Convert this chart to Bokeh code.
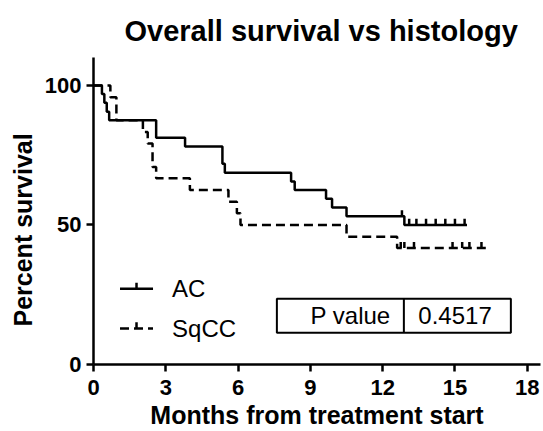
import numpy as np
from bokeh.plotting import figure
from bokeh.models import FixedTicker, Title
from bokeh.core.properties import value
from bokeh.embed import file_html
from bokeh.resources import INLINE

# ---------------- data ----------------
ac_times = [0, 0.35, 0.45, 0.55, 0.65, 2.6, 3.8, 5.35, 5.45, 8.2, 8.35, 9.65, 9.9, 10.5, 12.9]
ac_surv = [100, 96.9, 93.75, 90.6, 87.5, 81.25, 78.1, 71.9, 68.75, 65.6, 62.5, 59.4, 56.25, 53.1, 50.0]
ac_last = 15.5
ac_censor = [12.8, 13.1, 13.4, 13.8, 14.2, 14.6, 15.0, 15.4]

sq_times = [0, 0.7, 0.95, 2.05, 2.25, 2.45, 2.6, 4.0, 5.6, 5.95, 6.1, 10.5, 12.6]
sq_surv = [100, 95.8, 87.5, 83.3, 79.2, 70.8, 66.7, 62.5, 58.3, 54.2, 50.0, 45.8, 41.7]
sq_last = 16.3
sq_censor = [12.75, 12.9, 13.3, 14.9, 15.3, 15.6, 16.1]

series_names = ["AC", "SqCC"]
x_ticks = [0, 3, 6, 9, 12, 15, 18]
y_ticks = [0, 50, 100]
p_label = "P value"
p_value = "0.4517"

title_text = "Overall survival vs histology"
x_label = "Months from treatment start"
y_label = "Percent survival"

FONT = "Liberation Sans"
LW = 2.5
DASH = "9 5"


def surv_at(times, surv, t):
    idx = int(np.searchsorted(np.asarray(times), t, side="right")) - 1
    return surv[idx]


p = figure(width=543, height=431, x_range=(0, 18.55), y_range=(0, 110),
           output_backend="svg", toolbar_location=None,
           min_border_left=93, min_border_right=3, min_border_top=57, min_border_bottom=0)
p.outline_line_color = None
p.xgrid.visible = False
p.ygrid.visible = False
p.background_fill_color = "white"
p.border_fill_color = "white"

# title
p.title.text = title_text
p.title.align = "left"
p.title.offset = 31
p.title.standoff = 22
p.title.text_font = FONT
p.title.text_font_size = "29px"
p.title.text_font_style = "bold"
p.title.text_color = "black"

# axes
for ax in (p.xaxis[0], p.yaxis[0]):
    ax.axis_line_width = LW
    ax.axis_line_color = "black"
    ax.major_tick_line_width = LW
    ax.major_tick_line_color = "black"
    ax.major_tick_out = 7
    ax.major_tick_in = 0
    ax.minor_tick_out = 0
    ax.minor_tick_in = 0
    ax.major_label_text_font = FONT
    ax.major_label_text_font_size = "22px"
    ax.major_label_text_font_style = "bold"
    ax.major_label_text_color = "black"
    ax.major_label_standoff = 5

p.xaxis.major_label_standoff = 8
p.xaxis.ticker = FixedTicker(ticks=x_ticks)
p.yaxis.ticker = FixedTicker(ticks=y_ticks)
p.xaxis.axis_label = x_label
p.xaxis.axis_label_text_font = FONT
p.xaxis.axis_label_text_font_size = "25px"
p.xaxis.axis_label_text_font_style = "bold"
p.xaxis.axis_label_text_color = "black"
p.xaxis.axis_label_standoff = 3

ytitle = Title(text=y_label, align="left", offset=38, text_font=FONT,
               text_font_size="25px", text_font_style="bold", text_color="black",
               standoff=10)
p.add_layout(ytitle, "left")

# survival curves
ac_x = list(ac_times) + [ac_last]
ac_y = list(ac_surv) + [ac_surv[-1]]
sq_x = list(sq_times) + [sq_last]
sq_y = list(sq_surv) + [sq_surv[-1]]

p.step(sq_x, sq_y, mode="after", line_color="black", line_width=LW, line_dash=DASH)
p.step(ac_x, ac_y, mode="after", line_color="black", line_width=LW)

tick_h = 2.2
ac_cy = [surv_at(ac_times, ac_surv, t) for t in ac_censor]
sq_cy = [surv_at(sq_times, sq_surv, t) for t in sq_censor]
p.segment(x0=ac_censor, y0=ac_cy, x1=ac_censor, y1=[v + tick_h for v in ac_cy],
          line_color="black", line_width=LW)
p.segment(x0=sq_censor, y0=sq_cy, x1=sq_censor, y1=[v + tick_h for v in sq_cy],
          line_color="black", line_width=LW)

# legend (drawn by hand)
leg_x0, leg_x1, leg_tx = 1.1, 2.47, 3.26
leg_y = [27.1, 12.9]
p.segment(x0=[leg_x0], y0=[leg_y[0]], x1=[leg_x1], y1=[leg_y[0]], line_color="black", line_width=LW)
p.segment(x0=[leg_x0], y0=[leg_y[1]], x1=[leg_x1], y1=[leg_y[1]], line_color="black",
          line_width=LW, line_dash=DASH)
mid = (leg_x0 + leg_x1) / 2
p.segment(x0=[mid, mid], y0=leg_y, x1=[mid, mid], y1=[v + tick_h for v in leg_y],
          line_color="black", line_width=LW)
p.text(x=[leg_tx, leg_tx], y=leg_y, text=series_names, text_font=value(FONT),
       text_font_size="24px", text_baseline="middle", text_align="left", text_color="black")

# P value box
bx0, bx1, bdiv, by0, by1 = 7.61, 17.32, 12.88, 11.4, 23.6
p.quad(left=[bx0], right=[bx1], bottom=[by0], top=[by1], fill_color=None,
       line_color="black", line_width=2)
p.segment(x0=[bdiv], y0=[by0], x1=[bdiv], y1=[by1], line_color="black", line_width=2)
p.text(x=[bdiv - 0.55], y=[(by0 + by1) / 2], text=[p_label], text_font=value(FONT),
       text_font_size="24px", text_baseline="middle", text_align="right", text_color="black")
p.text(x=[bdiv + 0.6], y=[(by0 + by1) / 2], text=[p_value], text_font=value(FONT),
       text_font_size="24px", text_baseline="middle", text_align="left", text_color="black")

open("out.html", "w").write(file_html(p, INLINE))
